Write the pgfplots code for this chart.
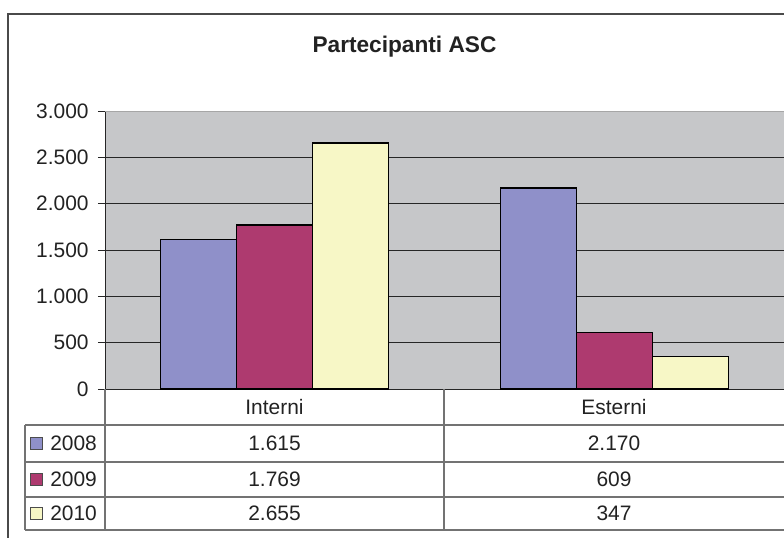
\documentclass[border=0pt]{standalone}
\usepackage{pgfplots}
\pgfplotsset{compat=1.18}
\usepackage{fontspec}
\setmainfont{Liberation Sans}
\definecolor{c2008}{HTML}{8F90C9}
\definecolor{c2009}{HTML}{AE3A6F}
\definecolor{c2010}{HTML}{F7F7C6}
\definecolor{plotbg}{HTML}{C6C7C9}
\definecolor{txt}{HTML}{222222}
\definecolor{frame}{HTML}{4A4A4A}
\newcommand\tabfont{\fontsize{15.7}{18}\selectfont}

\begin{document}
\begin{tikzpicture}
% px -> pt: 1px = 0.75pt, origin at top-left of the picture
\begin{axis}[
    at={(78.75pt,-291.75pt)}, anchor=south west,
    scale only axis,
    width=509.25pt, height=208.5pt,
    xmin=-0.5, xmax=1.5, ymin=0, ymax=3000,
    ybar=0pt, bar width=57pt,
    xtick=\empty,
    ytick={0,500,...,3000},
    ymajorgrids,
    grid style={line width=0.75pt, color=black!85},
    axis background/.style={fill=plotbg},
    axis lines*=left,
    axis line style={-, line width=0.75pt, color=black!85},
    tick align=outside,
    major tick length=5.25pt,
    tick style={line width=0.75pt, color=black!85},
    yticklabel style={font=\tabfont, color=txt, xshift=-3.5pt},
    /pgf/number format/.cd, 1000 sep={.}, assume math mode=true,
]
\addplot[fill=c2008, draw=black, line width=0.9pt] coordinates {(0,1615) (1,2170)};
\addplot[fill=c2009, draw=black, line width=0.9pt] coordinates {(0,1769) (1,609)};
\addplot[fill=c2010, draw=black, line width=0.9pt] coordinates {(0,2655) (1,347)};
\draw[color=black!35, line width=0.75pt] (rel axis cs:0,1) -- (rel axis cs:1,1);
\end{axis}

\begin{scope}[x=0.75pt, y=-0.75pt]
% outer frame
\draw[frame, line width=1.5pt] (8,538) -- (8,14) -- (790,14);
% title
\node[font=\fontsize{17}{20}\selectfont\bfseries, text=txt] at (404.5,46.5) {Partecipanti ASC};
% data table
\begin{scope}[black!55, line width=0.9pt]
\draw (105,389) -- (105,530);
\draw (444,389) -- (444,530);
\draw (25,425) -- (790,425);
\draw (25,462) -- (790,462);
\draw (25,497) -- (790,497);
\draw (25,530) -- (790,530);
\draw (25,425) -- (25,530);
\end{scope}
\node[font=\tabfont, text=txt] at (274.5,407) {Interni};
\node[font=\tabfont, text=txt] at (614,407) {Esterni};
\foreach \y/\c/\yr/\a/\b in {443.5/c2008/2008/1.615/2.170, 479.5/c2009/2009/1.769/609, 513.5/c2010/2010/2.655/347}{
  \draw[fill=\c, draw=black!70, line width=0.75pt] (30.5,\y-6) rectangle (42.5,\y+6);
  \node[font=\tabfont, text=txt, anchor=west, inner sep=0pt] at (50,\y) {\yr};
  \node[font=\tabfont, text=txt] at (274.5,\y) {\a};
  \node[font=\tabfont, text=txt] at (614,\y) {\b};
}
\pgfresetboundingbox
\path[use as bounding box] (0,0) rectangle (784,538);
\end{scope}
\end{tikzpicture}
\end{document}
